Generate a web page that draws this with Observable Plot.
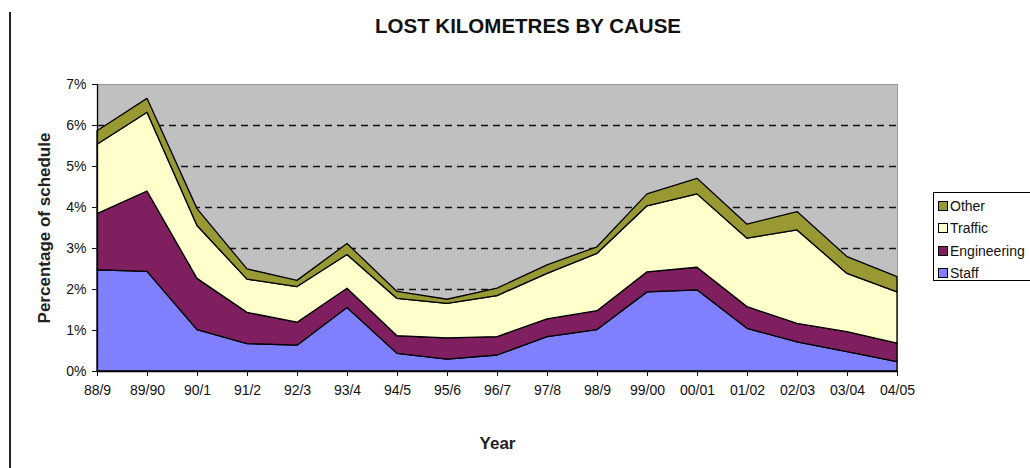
<!DOCTYPE html>
<html>
<head>
<meta charset="utf-8">
<script src="https://cdn.jsdelivr.net/npm/d3@7"></script>
<script src="https://cdn.jsdelivr.net/npm/@observablehq/plot@0.6"></script>
<style>
  html, body { margin: 0; padding: 0; background: #fff; }
  body { font-family: "Liberation Sans", Arial, sans-serif; }
  #wrap { position: relative; width: 1030px; height: 468px; overflow: hidden; background: #fff; }
  #chart { position: absolute; left: 0; top: 0; }
  #title { position: absolute; left: 0; width: 1056px; top: 14px; text-align: center;
           font-weight: bold; font-size: 20.5px; color: #111; }
  #vline { position: absolute; left: 9px; top: 12px; width: 2px; height: 460px; background: #222; }
  #legend { position: absolute; left: 933px; top: 192px; width: 130px; height: 89px;
            border: 1px solid #000; background: #fff; box-sizing: border-box; }
  .item { position: absolute; left: 4px; height: 16px; font-size: 14px; color: #111; white-space: nowrap;
          display: flex; align-items: center; }
  .sw { width: 8px; height: 8px; border: 1px solid #000; margin-right: 2px; }
</style>
</head>
<body>
<div id="wrap">
  <div id="vline"></div>
  <div id="chart"></div>
  <div id="title">LOST KILOMETRES BY CAUSE</div>
  <div id="legend"></div>
</div>
<script>
const years = ["88/9","89/90","90/1","91/2","92/3","93/4","94/5","95/6","96/7","97/8","98/9","99/00","00/01","01/02","02/03","03/04","04/05"];
const staff       = [2.47, 2.43, 1.01, 0.67, 0.63, 1.55, 0.43, 0.29, 0.39, 0.84, 1.01, 1.93, 1.98, 1.04, 0.71, 0.47, 0.23];
const engineering = [1.37, 1.96, 1.25, 0.76, 0.56, 0.47, 0.43, 0.52, 0.45, 0.43, 0.46, 0.49, 0.55, 0.53, 0.45, 0.49, 0.45];
const traffic     = [1.69, 1.92, 1.29, 0.81, 0.87, 0.82, 0.91, 0.84, 1.00, 1.11, 1.40, 1.61, 1.79, 1.67, 2.28, 1.42, 1.25];
const other       = [0.33, 0.34, 0.41, 0.25, 0.15, 0.27, 0.17, 0.10, 0.18, 0.21, 0.16, 0.29, 0.38, 0.34, 0.45, 0.41, 0.37];
const causes = ["Staff", "Engineering", "Traffic", "Other"];
const colors = ["#8080ff", "#7f1f5f", "#ffffcc", "#999933"];
const yTicks = [0, 1, 2, 3, 4, 5, 6, 7];
const gridTicks = [1, 2, 3, 4, 5, 6];
const yLabel = "Percentage of schedule";
const xLabel = "Year";

const series = [staff, engineering, traffic, other];
const rows = [];
causes.forEach((c, k) => years.forEach((yr, i) => rows.push({year: yr, cause: c, value: series[k][i]})));

const chart = Plot.plot({
  width: 1030,
  height: 468,
  marginLeft: 97,
  marginRight: 133,
  marginTop: 84,
  marginBottom: 97,
  style: { fontFamily: "'Liberation Sans', Arial, sans-serif", fontSize: "14px", color: "#111", background: "transparent" },
  x: { type: "point", domain: years, padding: 0 },
  y: { domain: [0, 7] },
  color: { domain: causes, range: colors },
  marks: [
    Plot.frame({ fill: "#c0c0c0", stroke: "#9a9a9a" }),
    Plot.ruleY(gridTicks, { stroke: "#111", strokeDasharray: "7,5", strokeWidth: 1.3 }),
    Plot.areaY(rows, { x: "year", y: "value", z: "cause", fill: "cause", order: causes,
                       stroke: "#000", strokeWidth: 1.3, strokeLinejoin: "round" }),
    Plot.ruleY([0], { stroke: "#000", strokeWidth: 1.3 }),
    Plot.ruleX([years[0]], { stroke: "#000", strokeWidth: 1.3 }),
    Plot.axisY({ ticks: yTicks, tickFormat: d => d + "%", tickSize: 5, tickPadding: 6,
                 label: yLabel, labelAnchor: "center", labelOffset: 60 }),
    Plot.axisX({ tickSize: 5, tickPadding: 9, label: xLabel, labelAnchor: "center", labelOffset: 77 })
  ]
});
document.getElementById("chart").appendChild(chart);

d3.select(chart).selectAll('[aria-label="y-axis label"] text')
  .text(yLabel).style("font-weight", "bold").style("font-size", "17px").style("fill", "#222");
d3.select(chart).selectAll('[aria-label="x-axis label"] text')
  .text(xLabel).style("font-weight", "bold").style("font-size", "17px").style("fill", "#222");

const legend = d3.select("#legend");
const legendOrder = ["Other", "Traffic", "Engineering", "Staff"];
legendOrder.forEach((c, i) => {
  const it = legend.append("div").attr("class", "item").style("top", (5 + i * 22.3) + "px");
  it.append("div").attr("class", "sw").style("background", colors[causes.indexOf(c)]);
  it.append("span").text(c);
});
</script>
</body>
</html>
